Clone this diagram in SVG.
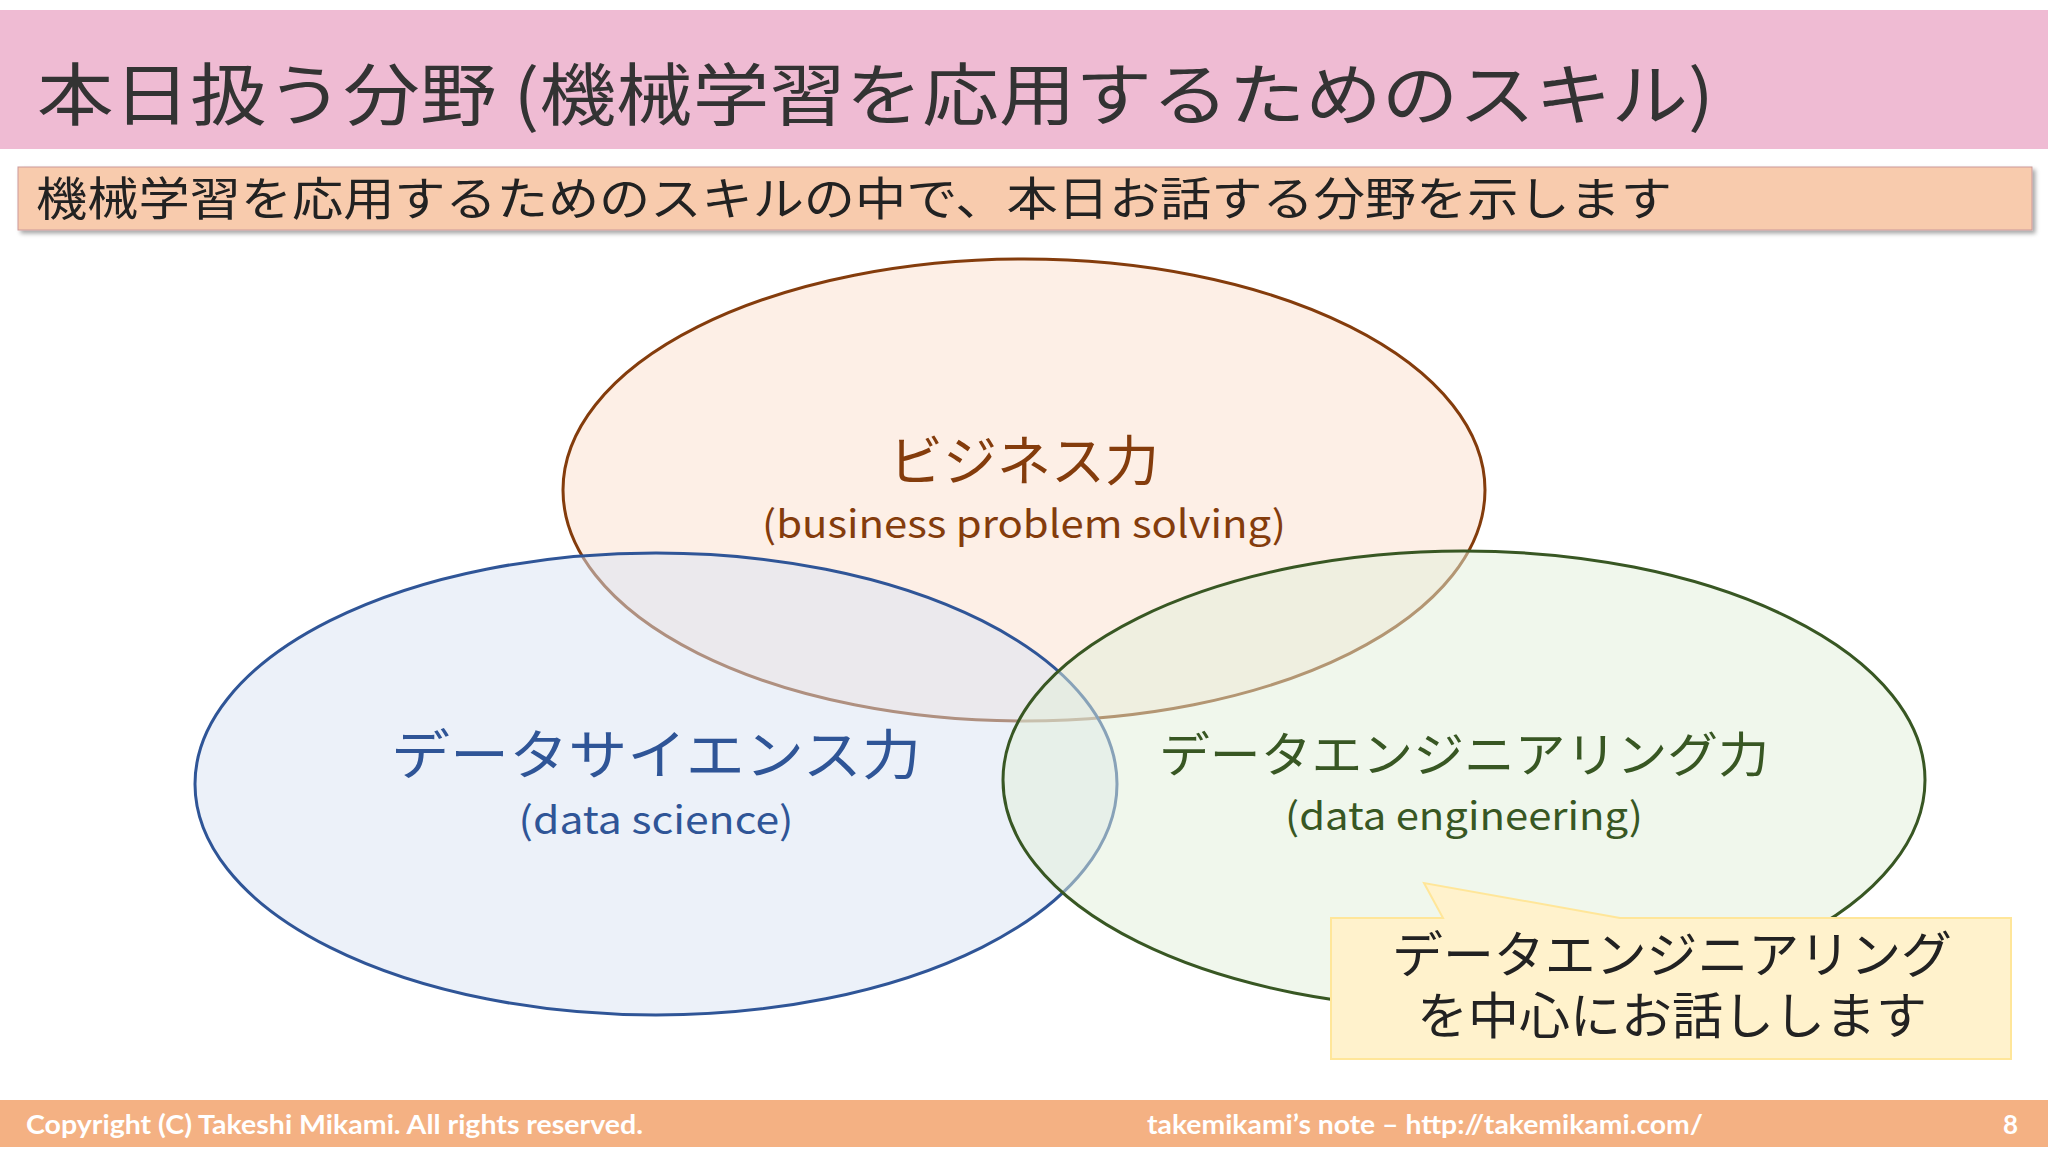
<svg xmlns="http://www.w3.org/2000/svg" width="2048" height="1152" viewBox="0 0 2048 1152">
<defs>
<style>
.jp{font-family:"Noto Sans CJK JP","Noto Sans",sans-serif}
.ft{font-family:"Lato","Noto Sans",sans-serif;font-weight:bold;fill:#fff;font-size:26px}
</style>
<filter id="sh" x="-5%" y="-20%" width="110%" height="150%"><feDropShadow dx="3" dy="3" stdDeviation="2" flood-color="#000" flood-opacity="0.35"/></filter>
</defs>
<rect width="2048" height="1152" fill="#fff"/>
<g id="title">
<rect x="0" y="10" width="2048" height="139" fill="#EFBBD3"/>
<text class="jp" x="37" y="120" font-size="68" fill="#333" textLength="1677" lengthAdjust="spacingAndGlyphs">本日扱う分野 (機械学習を応用するためのスキル)</text>
</g>
<g id="subtitle">
<rect x="18" y="167" width="2014" height="63" fill="#F8CBAD" stroke="#C99" stroke-width="1" filter="url(#sh)"/>
<text class="jp" x="36" y="215" font-size="46" fill="#222" textLength="1636" lengthAdjust="spacingAndGlyphs">機械学習を応用するためのスキルの中で、本日お話する分野を示します</text>
</g>
<g id="business">
<ellipse cx="1024" cy="490" rx="461" ry="231" fill="#FBE5D6" fill-opacity="0.6" stroke="#843C0C" stroke-width="3"/>
</g>
<g id="datascience">
<ellipse cx="656" cy="784" rx="461" ry="231" fill="#DAE3F3" fill-opacity="0.5" stroke="#2F5597" stroke-width="3"/>
</g>
<g id="dataeng">
<ellipse cx="1464" cy="780" rx="461" ry="229" fill="#E2F0D9" fill-opacity="0.5" stroke="#385723" stroke-width="3"/>
</g>
<g id="labels" class="jp" text-anchor="middle">
<text x="1024" y="481" font-size="54" fill="#843C0C">ビジネス力</text>
<text x="1024" y="538" font-size="38" fill="#843C0C" textLength="524" lengthAdjust="spacingAndGlyphs">(business problem solving)</text>
<text x="656" y="775" font-size="54" fill="#2F5597" textLength="530" lengthAdjust="spacingAndGlyphs">データサイエンス力</text>
<text x="656" y="834" font-size="38" fill="#2F5597" textLength="275" lengthAdjust="spacingAndGlyphs">(data science)</text>
<text x="1464" y="772" font-size="48" fill="#385723" textLength="610" lengthAdjust="spacingAndGlyphs">データエンジニアリング力</text>
<text x="1464" y="830" font-size="38" fill="#385723" textLength="358" lengthAdjust="spacingAndGlyphs">(data engineering)</text>
</g>
<g id="callout">
<path d="M1331,918 L1443,918 L1424,883 L1620,918 L2011,918 L2011,1059 L1331,1059 Z" fill="#FFF2CC" stroke="#FFE699" stroke-width="2"/>
<text class="jp" x="1672" y="973" font-size="50" fill="#222" text-anchor="middle" textLength="560" lengthAdjust="spacingAndGlyphs">データエンジニアリング</text>
<text class="jp" x="1672" y="1034" font-size="50" fill="#222" text-anchor="middle" textLength="510" lengthAdjust="spacingAndGlyphs">を中心にお話しします</text>
</g>
<g id="footer">
<rect x="0" y="1100" width="2048" height="47" fill="#F4B183"/>
<text class="ft" x="26" y="1134" textLength="617" lengthAdjust="spacingAndGlyphs">Copyright (C) Takeshi Mikami. All rights reserved.</text>
<text class="ft" x="1147" y="1134" textLength="556" lengthAdjust="spacingAndGlyphs">takemikami’s note – http://takemikami.com/</text>
<text class="ft" x="2003" y="1134">8</text>
</g>
</svg>
